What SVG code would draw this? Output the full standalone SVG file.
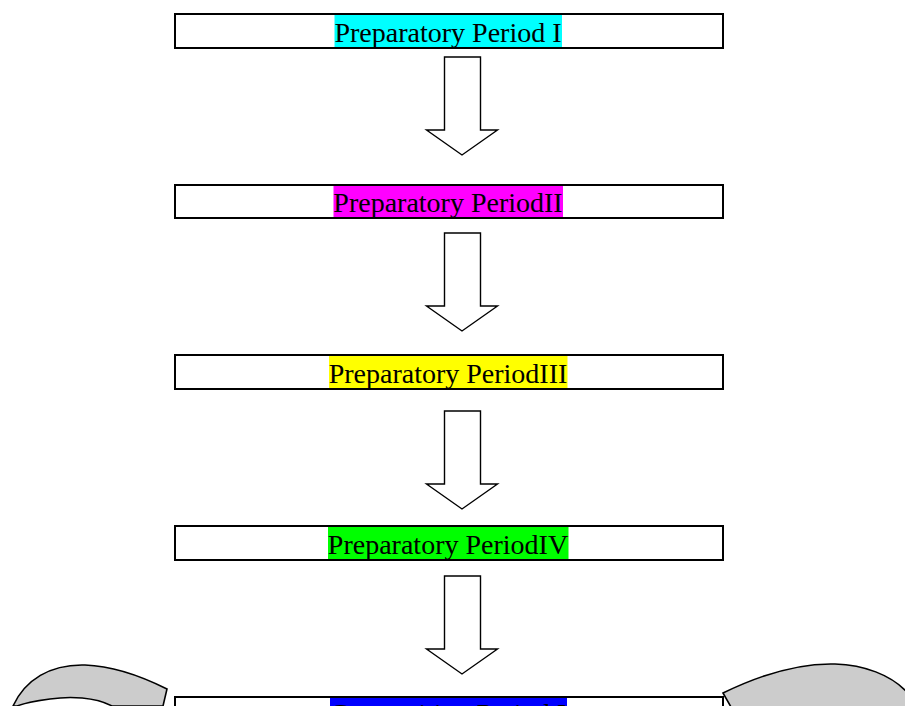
<svg xmlns="http://www.w3.org/2000/svg" width="905" height="706" viewBox="0 0 905 706">
<style>
.box{fill:#fff;stroke:#000;stroke-width:2}
.lbl{font-family:"Liberation Serif","Times New Roman",serif;font-size:28px;fill:#000;text-anchor:middle}
.arr{fill:#fff;stroke:#000;stroke-width:1.4;stroke-linejoin:miter}
.curve{fill:#cccccc;stroke:#000;stroke-width:1.6}
</style>
<rect width="905" height="706" fill="#fff"/>
<defs>
<path id="downArrow" d="M0,0 H36 V73 H53 L17.5,98 L-18,73 H0 Z"/>
</defs>
<g id="node1">
<rect class="box" x="175" y="14" width="548" height="34"/>
<rect x="334.5" y="15" width="227.5" height="32" fill="#00ffff"/>
<text class="lbl" x="448" y="42">Preparatory Period I</text>
</g>
<g id="node2">
<rect class="box" x="175" y="185" width="548" height="33"/>
<rect x="333.5" y="186" width="229.5" height="31" fill="#ff00ff"/>
<text class="lbl" x="448" y="212">Preparatory PeriodII</text>
</g>
<g id="node3">
<rect class="box" x="175" y="355" width="548" height="34"/>
<rect x="329" y="356" width="238.5" height="32" fill="#ffff00"/>
<text class="lbl" x="448" y="383">Preparatory PeriodIII</text>
</g>
<g id="node4">
<rect class="box" x="175" y="526" width="548" height="34"/>
<rect x="328" y="527" width="240.5" height="32" fill="#00ff00"/>
<text class="lbl" x="448" y="554">Preparatory PeriodIV</text>
</g>
<g id="node5">
<rect class="box" x="175" y="697" width="548" height="34"/>
<rect x="330" y="698" width="237" height="32" fill="#0000ff"/>
<text class="lbl" x="448" y="723">Competition Period I</text>
</g>
<g id="connectors">
<use href="#downArrow" class="arr" transform="translate(444.5,57)"/>
<use href="#downArrow" class="arr" transform="translate(444.5,233)"/>
<use href="#downArrow" class="arr" transform="translate(444.5,411)"/>
<use href="#downArrow" class="arr" transform="translate(444.5,576)"/>
</g>
<g id="curveLeft">
<path class="curve" d="M13,706 C25,680 50,664 85,665 C115,666 145,678 167,689 L163,706 L112,706 C95,697 70,696 50,699 C35,701 22,704 17,706 Z"/>
</g>
<g id="curveRight">
<path class="curve" d="M723,693 C760,675 800,663 835,664 C865,665 890,675 906,691 L906,707 L731,707 Z"/>
</g>
</svg>
